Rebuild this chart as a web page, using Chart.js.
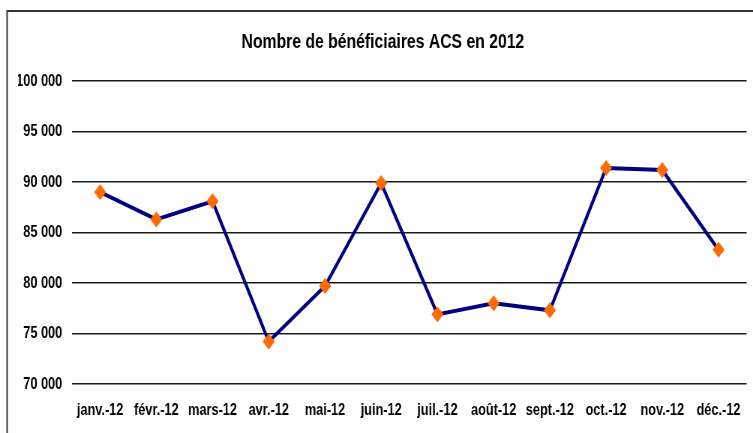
<!DOCTYPE html>
<html>
<head>
<meta charset="utf-8">
<script src="https://cdn.jsdelivr.net/npm/chart.js@4/dist/chart.umd.min.js"></script>
<style>
  html, body { margin: 0; padding: 0; background: #fff; overflow: hidden; }
  /* the original picture is squeezed horizontally, so draw wide and squeeze */
  #wrap { width: 1004px; height: 433px; transform: scaleX(0.75); transform-origin: 0 0; }
</style>
</head>
<body>
<div id="wrap"><canvas id="canvas" width="1004" height="433"></canvas></div>
<script>
var months = ["janv.-12", "févr.-12", "mars-12", "avr.-12", "mai-12", "juin-12",
              "juil.-12", "août-12", "sept.-12", "oct.-12", "nov.-12", "déc.-12"];
var beneficiaires = [89000, 86300, 88100, 74200, 79700, 89900, 76900, 78000, 77300, 91400, 91200, 83300];
var yTicks = [70000, 75000, 80000, 85000, 90000, 95000, 100000];

function fmt(v) {
    return String(v).replace(/\B(?=(\d{3})+(?!\d))/g, " ");
}

// frame around the chart (left and top edges are visible in the picture)
var framePlugin = {
    id: "frame",
    beforeDraw: function (chart) {
        var ctx = chart.ctx;
        ctx.save();
        ctx.fillStyle = "#fff";
        ctx.fillRect(0, 0, chart.width, chart.height);
        ctx.strokeStyle = "#333";
        ctx.lineWidth = 2;
        ctx.beginPath();
        ctx.moveTo(9.5, chart.height);
        ctx.lineTo(9.5, 11);
        ctx.lineTo(chart.width, 11);
        ctx.stroke();
        ctx.restore();
    }
};

Chart.defaults.font.family = "'Liberation Sans', Arial, sans-serif";
Chart.defaults.font.weight = "bold";
Chart.defaults.color = "#000";

new Chart(document.getElementById("canvas"), {
    type: "line",
    data: {
        labels: months,
        datasets: [{
            label: "Bénéficiaires ACS",
            data: beneficiaires,
            borderColor: "#000080",
            borderWidth: 4,
            tension: 0,
            pointStyle: "rectRot",
            pointRadius: 7.5,
            pointBackgroundColor: "#ff6a00",
            pointBorderColor: "#ff6a00",
            pointBorderWidth: 1,
            fill: false
        }]
    },
    options: {
        responsive: false,
        animation: false,
        layout: { padding: { left: 24, right: 7, top: 0, bottom: 0 } },
        plugins: {
            legend: { display: false },
            tooltip: { enabled: false },
            title: {
                display: true,
                text: "Nombre de bénéficiaires ACS en 2012",
                font: { size: 21, weight: "bold" },
                color: "#000",
                padding: { top: 30, bottom: 26 }
            }
        },
        scales: {
            x: {
                offset: true,
                grid: { display: false, drawTicks: false },
                border: { display: false },
                ticks: { font: { size: 17, weight: "bold" }, padding: 16, maxRotation: 0, autoSkip: false },
                afterFit: function (s) { s.height = 49; }
            },
            y: {
                min: 70000,
                max: 100000,
                afterBuildTicks: function (s) {
                    s.ticks = yTicks.map(function (v) { return { value: v }; });
                },
                grid: { color: "#1a1a1a", lineWidth: 1.5, drawTicks: false },
                border: { display: false },
                ticks: {
                    font: { size: 17, weight: "bold" },
                    padding: 13,
                    callback: function (v) { return fmt(v); }
                },
                afterFit: function (s) { s.width = 72; }
            }
        }
    },
    plugins: [framePlugin]
});
</script>
</body>
</html>
